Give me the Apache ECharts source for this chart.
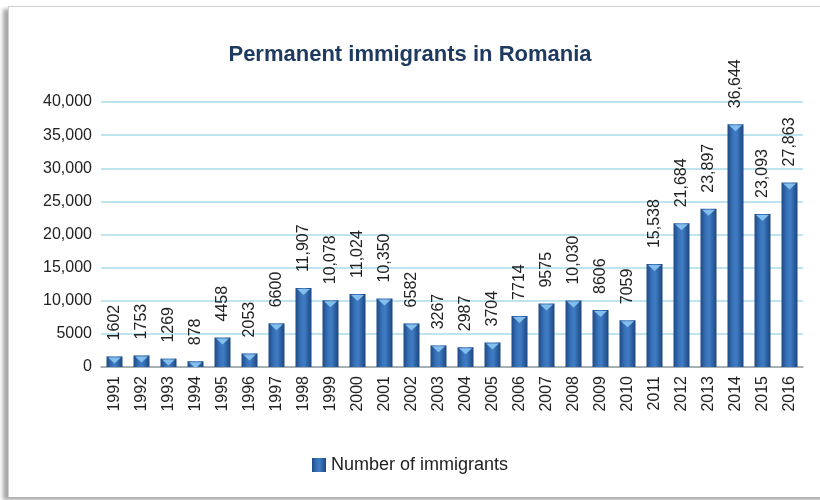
<!DOCTYPE html>
<html>
<head>
<meta charset="utf-8">
<script src="https://cdn.jsdelivr.net/npm/echarts@6/dist/echarts.min.js"></script>
<style>
  html, body { margin: 0; padding: 0; background: #fff; overflow: hidden; }
  #frame {
    position: absolute; left: 8px; top: 6px; width: 830px; height: 490px;
    border-top: 1px solid #cfcfcf; border-left: 1px solid #cfcfcf;
    box-shadow: -5px 3px 4px rgba(0,0,0,0.35);
    background: #fff;
  }
  #chart { position: absolute; left: 0; top: 0; width: 820px; height: 500px; }
</style>
</head>
<body>
<div id="frame"></div>
<div id="chart"></div>
<script>
// Permanent immigrants in Romania, yearly totals
const years = ['1991','1992','1993','1994','1995','1996','1997','1998','1999','2000',
  '2001','2002','2003','2004','2005','2006','2007','2008','2009','2010',
  '2011','2012','2013','2014','2015','2016'];
const immigrants = [1602, 1753, 1269, 878, 4458, 2053, 6600, 11907, 10078, 11024,
  10350, 6582, 3267, 2987, 3704, 7714, 9575, 10030, 8606, 7059,
  15538, 21684, 23897, 36644, 23093, 27863];
const seriesName = 'Number of immigrants';
const chartTitle = 'Permanent immigrants in Romania';

// numbers of five digits or more get a thousands separator
function fmt(v) {
  return v >= 10000 ? v.toLocaleString('en-US') : String(v);
}

const barFill = new echarts.graphic.LinearGradient(0, 0, 1, 0, [
  { offset: 0, color: '#1d4a86' },
  { offset: 0.35, color: '#3a74bb' },
  { offset: 0.55, color: '#3f7cc4' },
  { offset: 1, color: '#1c4680' }
]);

const chart = echarts.init(document.getElementById('chart'), null, { renderer: 'canvas' });
chart.setOption({
  backgroundColor: 'transparent',
  animation: false,
  title: {
    text: chartTitle,
    left: 'center', top: 39,
    textStyle: { fontFamily: 'Liberation Sans', fontWeight: 'bold', fontSize: 22, color: '#1f3a60' }
  },
  grid: { left: 101, right: 17, top: 102, bottom: 133 },
  legend: {
    data: [{ name: seriesName, icon: 'rect' }],
    left: 'center', top: 451,
    itemWidth: 14, itemHeight: 14, itemGap: 7,
    textStyle: { fontFamily: 'Liberation Sans', fontSize: 18, color: '#222' }
  },
  xAxis: {
    type: 'category',
    data: years,
    axisLine: { lineStyle: { color: '#a0a0a0', width: 1.5 } },
    axisTick: { show: false },
    axisLabel: { rotate: 90, interval: 0, margin: 9, fontFamily: 'Liberation Sans', fontSize: 16, color: '#222' }
  },
  yAxis: {
    type: 'value',
    min: 0, max: 40000, interval: 5000,
    axisLine: { show: false },
    axisTick: { show: false },
    axisLabel: { formatter: fmt, margin: 9, fontFamily: 'Liberation Sans', fontSize: 16, color: '#222' },
    splitLine: { lineStyle: { color: '#a9dcea', width: 1.5 } }
  },
  series: [
    {
      name: seriesName,
      type: 'bar',
      data: immigrants,
      barWidth: 16,
      itemStyle: { color: barFill },
      label: {
        show: true, position: 'top', rotate: 90, distance: 16,
        align: 'left', verticalAlign: 'middle',
        formatter: p => fmt(p.value),
        fontFamily: 'Liberation Sans', fontSize: 16, color: '#222'
      }
    },
    {
      // light bevel on top of each bar
      type: 'scatter',
      data: immigrants,
      symbol: 'triangle',
      symbolRotate: 180,
      symbolSize: [13, 6],
      symbolOffset: [0, 4],
      itemStyle: { color: '#88c2ee', opacity: 0.95 },
      silent: true,
      tooltip: { show: false },
      z: 3
    }
  ]
});
</script>
</body>
</html>
